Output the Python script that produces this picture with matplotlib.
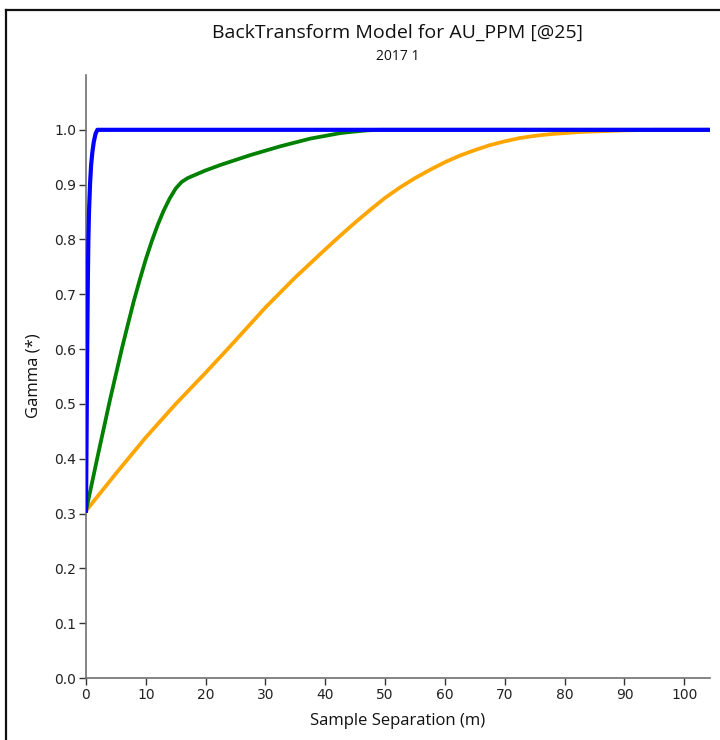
import matplotlib
matplotlib.use("Agg")
import matplotlib.pyplot as plt
from matplotlib.lines import Line2D

# ---- data ----
blue_x = [0, 0.1, 0.2, 0.3, 0.4, 0.5, 0.67, 0.85, 1.05, 1.3, 1.6, 1.9, 104.3]
blue_y = [0.305, 0.45, 0.60, 0.72, 0.80, 0.85, 0.90, 0.935, 0.958, 0.978, 0.993, 1.0, 1.0]

green_x = [0, 1, 2, 3, 4, 5, 6, 7, 8, 9, 10, 11, 12, 13, 14, 15, 16, 17,
           18.5, 20, 22.5, 25, 27.5, 30, 32.5, 35, 37.5, 40, 42.5, 45, 47, 49, 104.3]
green_y = [0.305, 0.356, 0.407, 0.457, 0.507, 0.554, 0.601, 0.645, 0.688, 0.727,
           0.764, 0.797, 0.827, 0.853, 0.875, 0.893, 0.905, 0.912,
           0.919, 0.926, 0.936, 0.945, 0.954, 0.962, 0.970, 0.977, 0.984, 0.989,
           0.994, 0.997, 0.999, 1.0, 1.0]

orange_x = [0, 5, 10, 15, 20, 24, 30, 35, 40, 42.5, 45, 47.5, 50, 52.5, 55, 57.5,
            60, 62.5, 65, 67.5, 70, 72.5, 75, 77.5, 80, 82.5, 85, 90, 95, 104.3]
orange_y = [0.305, 0.373, 0.439, 0.500, 0.557, 0.604, 0.676, 0.731, 0.782, 0.807,
            0.831, 0.854, 0.876, 0.895, 0.912, 0.927, 0.941, 0.953, 0.963, 0.972,
            0.979, 0.985, 0.989, 0.992, 0.994, 0.996, 0.997, 0.999, 1.0, 1.0]

x_ticks = [0, 10, 20, 30, 40, 50, 60, 70, 80, 90, 100]
y_ticks = [0.0, 0.1, 0.2, 0.3, 0.4, 0.5, 0.6, 0.7, 0.8, 0.9, 1.0]

title = "BackTransform Model for AU_PPM [@25]"
subtitle = "2017 1"
xlabel = "Sample Separation (m)"
ylabel = "Gamma (*)"

W, H = 720, 740
fig = plt.figure(figsize=(W / 100, H / 100), dpi=100)
ax = fig.add_axes([86 / W, 1 - 678 / H, (710 - 86) / W, (678 - 75) / H])

ax.plot(orange_x, orange_y, color="#FFA500", lw=2.7, zorder=3,
        solid_joinstyle="round")
ax.plot(green_x, green_y, color="#008000", lw=2.7, zorder=4,
        solid_joinstyle="round")
ax.plot(blue_x, blue_y, color="#0000FF", lw=3.0, zorder=5,
        solid_joinstyle="round")

ax.set_xlim(0, 104.3)
ax.set_ylim(0, 1.1)
ax.set_xticks(x_ticks)
ax.set_yticks(y_ticks)
ax.set_xticklabels([str(v) for v in x_ticks])
ax.set_yticklabels([f"{v:.1f}" for v in y_ticks])

for s in ["top", "right"]:
    ax.spines[s].set_visible(False)
for s in ["left", "bottom"]:
    ax.spines[s].set_color("#707070")
    ax.spines[s].set_linewidth(1.2)
ax.tick_params(direction="out", length=5, width=1, color="#333333",
               labelsize=10, labelcolor="#222222", pad=2)

tfont = ["Open Sans", "DejaVu Sans"]
fig.text(398 / W, 1 - 33 / H, title, ha="center", va="center",
         fontsize=14, family=tfont, color="#111111")
fig.text(398 / W, 1 - 56 / H, subtitle, ha="center", va="center",
         fontsize=10, family=tfont, color="#111111")
fig.text(398 / W, 1 - 721 / H, xlabel, ha="center", va="center",
         fontsize=12, family=tfont, color="#111111")
fig.text(33 / W, 1 - 376 / H, ylabel, ha="center", va="center", rotation=90,
         fontsize=12, family=tfont, color="#111111")

# outer frame (top and left edges visible)
fig.add_artist(Line2D([5.5 / W, 1.0], [1 - 10 / H, 1 - 10 / H],
                      transform=fig.transFigure, color="#111111", lw=1.6))
fig.add_artist(Line2D([5.5 / W, 5.5 / W], [0, 1 - 10 / H],
                      transform=fig.transFigure, color="#111111", lw=1.6))

fig.savefig("out.png", dpi=100)
